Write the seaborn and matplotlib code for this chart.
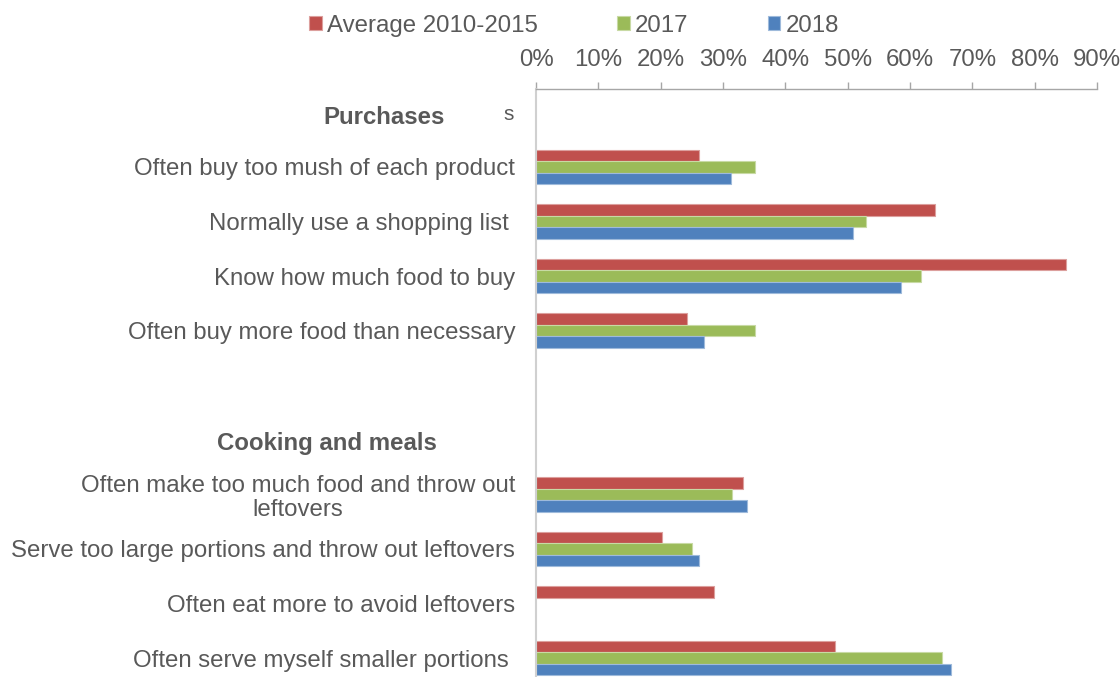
import numpy as np
import pandas as pd
import matplotlib
matplotlib.use("Agg")
import matplotlib.pyplot as plt
import matplotlib.colors as mcolors
from matplotlib.ticker import PercentFormatter
import seaborn as sns

# ---------------- data ----------------
categories = [
    "Purchases",
    "Often buy too mush of each product",
    "Normally use a shopping list ",
    "Know how much food to buy",
    "Often buy more food than necessary",
    " ",
    "Cooking and meals",
    "Often make too much food and throw out\nleftovers",
    "Serve too large portions and throw out leftovers",
    "Often eat more to avoid leftovers",
    "Often serve myself smaller portions ",
]
headers = ["Purchases", "Cooking and meals"]
series = ["Average 2010-2015", "2017", "2018"]
avg_2010_2015 = [np.nan, 0.261, 0.640, 0.851, 0.242, np.nan, np.nan, 0.332, 0.202, 0.286, 0.479]
val_2017 = [np.nan, 0.351, 0.530, 0.618, 0.351, np.nan, np.nan, 0.314, 0.251, np.nan, 0.651]
val_2018 = [np.nan, 0.313, 0.509, 0.586, 0.270, np.nan, np.nan, 0.338, 0.261, np.nan, 0.665]
x_ticks = [0, 0.1, 0.2, 0.3, 0.4, 0.5, 0.6, 0.7, 0.8, 0.9]
colors = ["#C0504D", "#9BBB59", "#4F81BD"]
stray_text = "s"

df = pd.DataFrame({
    "category": categories * 3,
    "series": [series[0]] * len(categories) + [series[1]] * len(categories) + [series[2]] * len(categories),
    "value": avg_2010_2015 + val_2017 + val_2018,
}).dropna()

# ---------------- style ----------------
sns.set_theme(style="white")
plt.rcParams["font.family"] = ["Liberation Sans", "DejaVu Sans"]
TXT = "#595959"
FS = 17.3

W, H = 1120, 677
fig = plt.figure(figsize=(W / 100, H / 100), dpi=100)
ax_left, ax_right, ax_top = 536, 1097, 89
ax = fig.add_axes([ax_left / W, 0.0, (ax_right - ax_left) / W, 1 - ax_top / H])

sns.barplot(
    data=df, y="category", x="value", hue="series",
    order=categories, hue_order=series, palette=colors,
    orient="h", width=0.63, errorbar=None, ax=ax, saturation=1,
)

# light outlines like the original
for p in ax.patches:
    fc = np.array(mcolors.to_rgb(p.get_facecolor()))
    p.set_edgecolor(tuple(fc + (1 - fc) * 0.45))
    p.set_linewidth(0.8)

ax.set_xlim(0, 0.9)
ax.set_ylim(10.348, -0.429)
ax.set_xticks(x_ticks)
ax.xaxis.set_major_formatter(PercentFormatter(1.0, decimals=0))
ax.xaxis.tick_top()
ax.set_xlabel("")
ax.set_ylabel("")

ax.set_yticks(range(len(categories)))
ax.set_yticklabels(["" if (c in headers or c.strip() == "") else c for c in categories])
for lbl in ax.get_yticklabels():
    if "\n" in lbl.get_text():
        lbl.set_multialignment("center")
        lbl.set_linespacing(1.1)

ax.tick_params(axis="x", which="both", top=True, bottom=False, direction="out",
               length=5, width=1, color="#A6A6A6", labelsize=FS, labelcolor=TXT, pad=8)
ax.tick_params(axis="y", length=0, labelsize=FS, labelcolor=TXT, pad=15)

for s in ["right", "bottom"]:
    ax.spines[s].set_visible(False)
ax.spines["top"].set_color("#A6A6A6")
ax.spines["top"].set_linewidth(1)
ax.spines["left"].set_color("#D0D0D0")
ax.spines["left"].set_linewidth(1.5)
ax.grid(False)

# group headers
header_pos = {"Purchases": (-0.163, 0.10), "Cooking and meals": (-0.176, 0.06)}
for h in headers:
    xf, dy = header_pos[h]
    ax.text(xf, categories.index(h) + dy, h, transform=ax.get_yaxis_transform(),
            ha="right", va="center", fontsize=FS, fontweight="bold", color=TXT)

# stray character next to the first header
fig.text(508.5 / W, 1 - 114 / H, stray_text, ha="center", va="center", fontsize=15, color=TXT)

# legend
handles, labels = ax.get_legend_handles_labels()
ax.get_legend().remove()
fig.legend(handles, labels, loc="center", bbox_to_anchor=(574 / W, 1 - 26 / H),
           ncol=3, frameon=False, fontsize=FS, labelcolor=TXT,
           handlelength=0.52, handleheight=0.52, handletextpad=0.22,
           columnspacing=3.3, borderpad=0)

fig.savefig("out.png", dpi=100)
